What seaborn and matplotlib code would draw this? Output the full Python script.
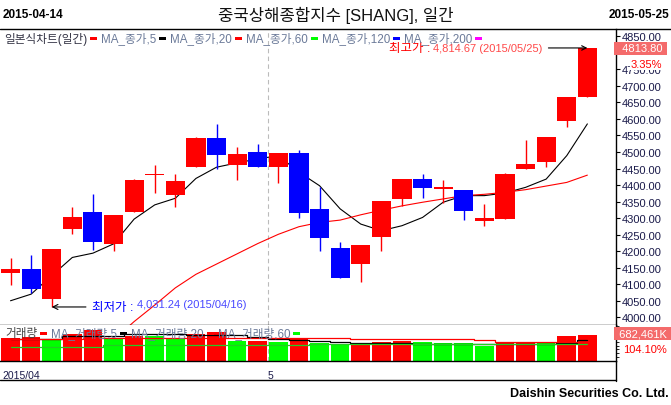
import matplotlib
matplotlib.use("Agg")
import matplotlib.pyplot as plt
from matplotlib.lines import Line2D
from matplotlib.patches import Rectangle
import seaborn as sns
import numpy as np
import pandas as pd

# daily candles, 2015-04-14 .. 2015-05-25
dates = ["2015-04-14", "2015-04-15", "2015-04-16", "2015-04-17", "2015-04-20",
         "2015-04-21", "2015-04-22", "2015-04-23", "2015-04-24", "2015-04-27",
         "2015-04-28", "2015-04-29", "2015-04-30", "2015-05-04", "2015-05-05",
         "2015-05-06", "2015-05-07", "2015-05-08", "2015-05-11", "2015-05-12",
         "2015-05-13", "2015-05-14", "2015-05-15", "2015-05-18", "2015-05-19",
         "2015-05-20", "2015-05-21", "2015-05-22", "2015-05-25"]
opens = [4133, 4146, 4056, 4268, 4318, 4223, 4318, 4429, 4371, 4455,
         4542, 4462, 4500, 4455, 4497, 4328, 4210, 4162, 4244, 4359,
         4418, 4389, 4385, 4291, 4297, 4449, 4471, 4595, 4667]
highs = [4179, 4188, 4207, 4334, 4373, 4309, 4418, 4461, 4434, 4545,
         4585, 4516, 4524, 4497, 4506, 4395, 4229, 4219, 4352, 4418,
         4434, 4415, 4385, 4344, 4437, 4536, 4546, 4667, 4814.67]
lows = [4099, 4073, 4031.24, 4253, 4203, 4201, 4317, 4376, 4334, 4455,
        4449, 4415, 4455, 4407, 4299, 4201, 4118, 4108, 4201, 4338,
        4362, 4347, 4295, 4276, 4297, 4448, 4456, 4577, 4667]
closes = [4146, 4087, 4206, 4303, 4229, 4309, 4415, 4431, 4412, 4542,
          4492, 4494, 4455, 4497, 4315, 4241, 4118, 4219, 4352, 4418,
          4392, 4395, 4322, 4300, 4434, 4464, 4545, 4666, 4813.80]
ma5 = [4050, 4070, 4126, 4181, 4194, 4222, 4297, 4340, 4360, 4420,
       4454, 4467, 4479, 4489, 4439, 4398, 4328, 4282, 4262, 4277,
       4302, 4348, 4368, 4368, 4376, 4393, 4418, 4489, 4585]
ma20 = [3735, 3765, 3800, 3840, 3885, 3932, 3987, 4037, 4089, 4130,
        4161, 4192, 4223, 4251, 4274, 4287, 4294, 4310, 4324, 4337,
        4348, 4358, 4368, 4372, 4378, 4386, 4397, 4408, 4430]

# volume in K
volume = [611600, 630000, 543000, 701000, 806000, 569600, 656000, 638000, 596000, 701000,
          761000, 525000, 533000, 499000, 596000, 480000, 412000, 415000, 507000, 525000,
          507000, 465000, 462000, 402000, 480000, 507000, 480000, 656000, 682461]
vol_ma5 = [577000, 577000, 577000, 648000, 648000, 648000, 690000, 690000, 690000, 682000,
           682000, 670000, 630000, 577000, 551000, 520000, 499000, 465000, 465000, 460000,
           450000, 445000, 440000, 438000, 438000, 438000, 438000, 480000, 543000]
vol_ma20 = [580000, 580000, 580000, 585000, 590000, 596000, 596000, 596000, 596000, 596000,
            596000, 596000, 596000, 596000, 596000, 596000, 596000, 570000, 570000, 570000,
            570000, 570000, 570000, 543000, 507000, 507000, 507000, 507000, 507000]
vol_ma60 = [367000, 367000, 367000, 367000, 367000, 420000, 420000, 420000, 420000, 420000,
            420000, 420000, 420000, 420000, 420000, 433000, 433000, 433000, 433000, 433000,
            433000, 433000, 433000, 433000, 433000, 433000, 433000, 433000, 433000]

price_ticks = [4000, 4050, 4100, 4150, 4200, 4250, 4300, 4350, 4400, 4450,
               4500, 4550, 4600, 4650, 4700, 4750, 4800, 4850]
hidden_ticks = [4800]  # covered by the last-price box

df = pd.DataFrame({"date": pd.to_datetime(dates), "open": opens, "high": highs,
                   "low": lows, "close": closes, "ma5": ma5, "ma20": ma20,
                   "vol": volume, "vma5": vol_ma5, "vma20": vol_ma20, "vma60": vol_ma60})
df["i"] = np.arange(len(df))

RED, BLUE, GREEN = "#ff0000", "#0000ff", "#00ff00"
NAVY = "#1a1a4a"
LEG = "#6b7a99"

sns.set_theme(style="white")
plt.rcParams["font.family"] = ["Liberation Sans", "Noto Sans CJK KR"]

W, H = 671, 406
def fx(px):
    return px / W
def fy(py):
    return 1 - py / H

fig = plt.figure(figsize=(6.71, 4.06), dpi=100)
fig.patch.set_facecolor("white")
ax = fig.add_axes([0, fy(326), fx(616), (326 - 30) / H])
axv = fig.add_axes([0, fy(362), fx(616), (362 - 326) / H])
xlim = (-0.51, 29.39)

# --- price panel
up = df["close"] >= df["open"]
ccol = np.where(up, RED, BLUE)
ax.vlines(df["i"], df["low"], df["high"], colors=ccol, lw=1.0, zorder=3)
body_lo = np.minimum(df["open"], df["close"])
body_h = np.maximum(np.abs(df["close"] - df["open"]), 5)
ax.bar(df["i"], body_h, bottom=body_lo, width=0.93, color=ccol, linewidth=0, zorder=3)
sns.lineplot(data=df, x="i", y="ma5", ax=ax, color="black", lw=0.8, zorder=2)
sns.lineplot(data=df, x="i", y="ma20", ax=ax, color=RED, lw=0.8, zorder=2)
ax.axvline(12.5, color="#bbbbbb", lw=0.8, ls=(0, (4, 3)), zorder=1)

ax.set_xlim(*xlim)
ax.set_ylim(3976.7, 4872)
ax.set_xticks([])
ax.set_xlabel("")
ax.set_ylabel("")
ax.yaxis.tick_right()
ax.set_yticks(price_ticks)
ax.set_yticklabels(["" if v in hidden_ticks else f"{v:.2f}" for v in price_ticks])
ax.tick_params(axis="y", direction="out", length=3, width=0.8, colors="black",
               labelcolor=NAVY, labelsize=8, pad=1)
for s in ["left", "top"]:
    ax.spines[s].set_visible(False)
for s in ["right", "bottom"]:
    ax.spines[s].set_color("black")
    ax.spines[s].set_linewidth(1.0)

# high / low annotations
hi_i = int(np.argmax(df["high"]))
lo_i = int(np.argmin(df["low"]))
hi_num = ax.annotate(f"{df['high'][hi_i]:,.2f} ({df['date'][hi_i]:%Y/%m/%d})",
                     xy=(hi_i, df["high"][hi_i]), xytext=(-32.4, 0), textcoords="offset points",
                     ha="right", va="center", fontsize=8, color="#ff4848",
                     arrowprops=dict(arrowstyle="->", color="black", lw=0.8, shrinkA=2, shrinkB=0))
lo_lab = ax.annotate("최저가 :", xy=(lo_i, df["low"][lo_i]), xytext=(29, 0),
                     textcoords="offset points", ha="left", va="center", fontsize=9, color=BLUE,
                     arrowprops=dict(arrowstyle="->", color="black", lw=0.8, shrinkA=2, shrinkB=0))
fig.canvas.draw()
bb_hi = hi_num.get_window_extent()
bb_lo = lo_lab.get_window_extent()
fig.text((bb_hi.x0 - 3) / W, fy(49), "최고가 :", ha="right", va="center", fontsize=9, color=RED)
fig.text((bb_lo.x1 + 4) / W, fy(305), f"{df['low'][lo_i]:,.2f} ({df['date'][lo_i]:%Y/%m/%d})",
         ha="left", va="center", fontsize=8, color="#4848ff")

# last price boxes on the right
last_close = df["close"].iloc[-1]
prev_close = 4657.60
ax.text(1.0, last_close, f"  {last_close:.2f} ", transform=ax.get_yaxis_transform(),
        ha="left", va="center", fontsize=8, color="white", zorder=6, clip_on=False,
        bbox=dict(boxstyle="square,pad=0.15", fc="#f46b6b", ec="none"))
ax.text(1.024, 4766, f"{(last_close / prev_close - 1) * 100:.2f}%",
        transform=ax.get_yaxis_transform(), ha="left", va="center", fontsize=8,
        color=RED, zorder=6, clip_on=False,
        bbox=dict(boxstyle="square,pad=0.1", fc="white", ec="none"))

# --- volume panel
vcol = [RED] + [RED if b >= a else GREEN for a, b in zip(volume[:-1], volume[1:])]
axv.bar(df["i"], df["vol"], width=0.9, color=vcol, linewidth=0, zorder=2)
sns.lineplot(data=df, x="i", y="vma5", ax=axv, color="black", lw=0.9, drawstyle="steps-mid", zorder=3)
sns.lineplot(data=df, x="i", y="vma20", ax=axv, color=RED, lw=0.9, drawstyle="steps-mid", zorder=3)
sns.lineplot(data=df, x="i", y="vma60", ax=axv, color="#22cc22", lw=0.9, drawstyle="steps-mid", zorder=3)
axv.axvline(12.5, color="#bbbbbb", lw=0.8, ls=(0, (4, 3)), zorder=1)
axv.set_xlim(*xlim)
axv.set_ylim(0, 937000)
axv.set_xlabel("")
axv.set_ylabel("")
axv.set_xticks([12.5])
axv.set_xticklabels([""])
axv.tick_params(axis="x", direction="out", length=4, width=0.8, colors="black")
axv.yaxis.tick_right()
axv.set_yticks(np.arange(100000, 900001, 100000))
axv.set_yticklabels([])
axv.tick_params(axis="y", direction="out", length=2, width=0.6, colors="black")
axv.spines["left"].set_visible(False)
axv.spines["top"].set_visible(False)
for s in ["right", "bottom"]:
    axv.spines[s].set_color("black")
    axv.spines[s].set_linewidth(1.0)

last_vol = volume[-1]
axv.text(1.0, 0.77, f" {last_vol:,}K ", transform=axv.transAxes, ha="left", va="center",
         fontsize=8, color="white", zorder=6, clip_on=False,
         bbox=dict(boxstyle="square,pad=0.15", fc="#f46b6b", ec="none"))
axv.text(1.011, 0.33, "104.10%", transform=axv.transAxes, ha="left", va="center",
         fontsize=8, color=RED, zorder=6, clip_on=False)

# --- frame lines
fig.add_artist(Line2D([0, 1], [fy(30), fy(30)], color="black", lw=1.0, transform=fig.transFigure))
fig.add_artist(Line2D([0, fx(616)], [fy(381), fy(381)], color="black", lw=1.0, transform=fig.transFigure))
fig.add_artist(Line2D([fx(616), fx(616)], [fy(362), fy(382)], color="black", lw=1.0, transform=fig.transFigure))

# --- header and footer
fig.text(fx(3), fy(15), "2015-04-14", ha="left", va="center", fontsize=8.5, fontweight="bold", color="black")
fig.text(fx(669), fy(15), "2015-05-25", ha="right", va="center", fontsize=8.5, fontweight="bold", color="black")
fig.text(fx(336), fy(15), "중국상해종합지수 [SHANG], 일간", ha="center", va="center", fontsize=12, color="#111111")
fig.text(fx(669), fy(394), "Daishin Securities Co. Ltd.", ha="right", va="center", fontsize=9,
         fontweight="bold", color="black")
fig.text(fx(2), fy(376), "2015/04", ha="left", va="center", fontsize=7.5, color=NAVY)
fig.text(fx(268), fy(376), "5", ha="left", va="center", fontsize=7.5, color=NAVY)

# --- legends: text, small colour bar, next text
def legend_row(items, x0, y, first_color, size):
    x = x0
    for k, (label, mcol) in enumerate(items):
        t = fig.text(x / W, fy(y), label, ha="left", va="center", fontsize=size,
                     color=first_color if k == 0 else LEG)
        fig.canvas.draw()
        bb = t.get_window_extent()
        mx = bb.x1 + 3
        fig.add_artist(Rectangle((mx / W, fy(y + 2)), 7 / W, 3 / H, color=mcol,
                                 transform=fig.transFigure, lw=0))
        x = mx + 11

legend_row([("일본식차트(일간)", RED), ("MA_종가,5", "black"), ("MA_종가,20", RED),
            ("MA_종가,60", GREEN), ("MA_종가,120", BLUE), ("MA_종가,200", "#ff00ff")],
           4, 39, "#333344", 8.4)
legend_row([("거래량", RED), ("MA_거래량,5", "black"), ("MA_거래량,20", RED),
            ("MA_거래량,60", GREEN)], 5, 334, "#444444", 8.4)

fig.savefig("out.png", dpi=100)
